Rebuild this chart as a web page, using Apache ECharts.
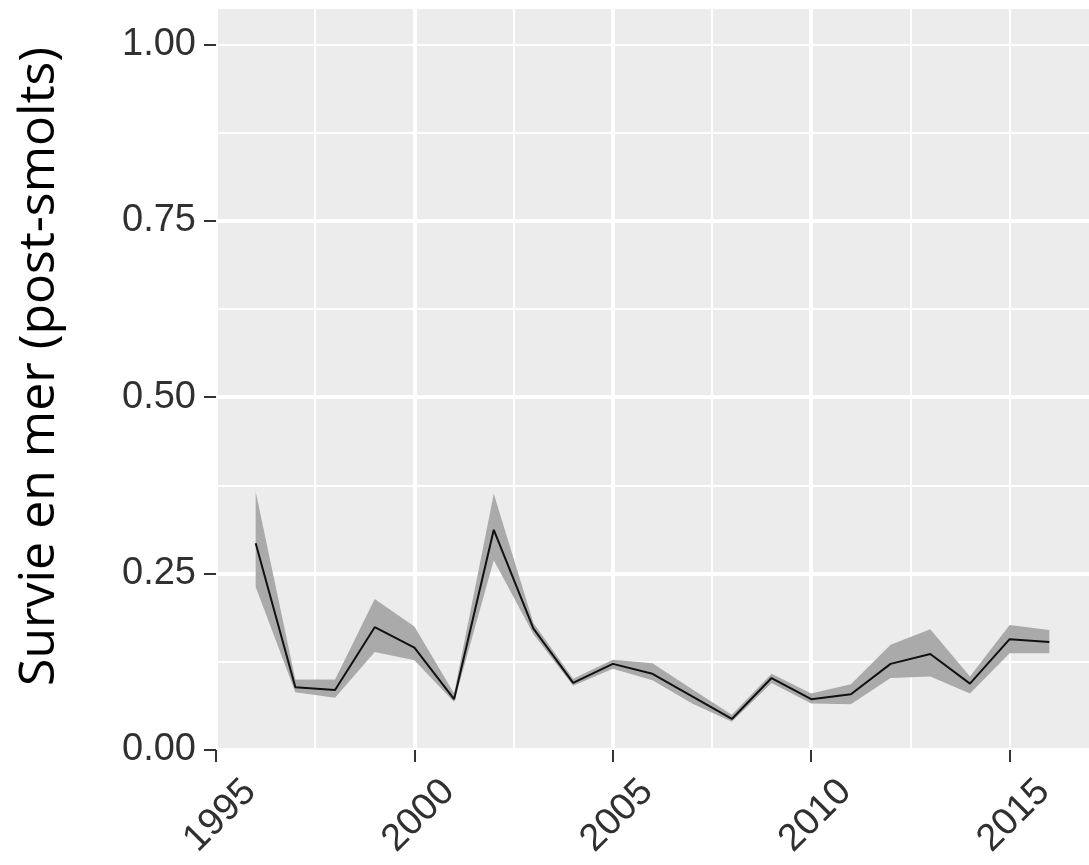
<!DOCTYPE html>
<html>
<head>
<meta charset="utf-8">
<script src="https://cdn.jsdelivr.net/npm/echarts@6/dist/echarts.min.js"></script>
<style>
  html, body { margin: 0; padding: 0; background: #ffffff; }
  #chart { width: 1089px; height: 865px; }
</style>
</head>
<body>
<div id="chart"></div>
<script>
// Post-smolt marine survival: median with credible band, by smolt year
const years = [1996, 1997, 1998, 1999, 2000, 2001, 2002, 2003, 2004, 2005, 2006,
               2007, 2008, 2009, 2010, 2011, 2012, 2013, 2014, 2015, 2016];
const median = [0.293, 0.089, 0.085, 0.174, 0.145, 0.072, 0.312, 0.172, 0.095, 0.122, 0.108,
                0.076, 0.044, 0.102, 0.072, 0.079, 0.122, 0.136, 0.094, 0.157, 0.153];
const upper = [0.366, 0.100, 0.100, 0.214, 0.175, 0.080, 0.363, 0.180, 0.101, 0.128, 0.123,
               0.086, 0.050, 0.108, 0.080, 0.093, 0.149, 0.171, 0.104, 0.177, 0.170];
const lower = [0.231, 0.082, 0.074, 0.139, 0.127, 0.068, 0.269, 0.164, 0.091, 0.115, 0.099,
               0.066, 0.040, 0.095, 0.066, 0.065, 0.102, 0.104, 0.080, 0.137, 0.137];

const xTicks = [1995, 2000, 2005, 2010, 2015];
const yTicks = [0, 0.25, 0.5, 0.75, 1.0];
const yTitle = 'Survie en mer (post-smolts)';

const X_MIN = 1995, X_MAX = 2017, Y_MIN = 0, Y_MAX = 1.05;
const labelFont = "'Liberation Sans', Arial, sans-serif";
const titleFont = "'Open Sans', 'Noto Sans', sans-serif";

const chart = echarts.init(document.getElementById('chart'), null, { renderer: 'canvas' });

const gridLine = (w) => ({ show: true, showMinLine: true, showMaxLine: false,
                           lineStyle: { color: '#ffffff', width: w } });

const option = {
  animation: false,
  grid: {
    left: 216, right: 0, top: 9, bottom: 115,
    show: true, backgroundColor: '#ececec', borderWidth: 0
  },
  xAxis: [
    {
      type: 'value', min: X_MIN, max: X_MAX, interval: 5,
      axisLine: { show: false },
      axisTick: { show: true, length: 12, customValues: xTicks,
                  lineStyle: { color: '#333333', width: 2 } },
      axisLabel: {
        show: true, customValues: xTicks, rotate: 45,
        align: 'center', verticalAlign: 'middle', margin: 70,
        padding: [0, 0, 0, 12],
        fontFamily: labelFont, fontSize: 38, color: '#303030',
        formatter: (v) => (v % 5 === 0 ? String(v) : '')
      },
      splitLine: gridLine(4),
      z: 2
    },
    {
      // minor grid (half-steps)
      type: 'value', min: X_MIN, max: X_MAX, interval: 2.5,
      axisLine: { show: false }, axisTick: { show: false }, axisLabel: { show: false },
      splitLine: gridLine(2),
      z: 1
    }
  ],
  yAxis: [
    {
      type: 'value', min: Y_MIN, max: Y_MAX, interval: 0.25,
      name: yTitle, nameLocation: 'middle', nameRotate: 90, nameGap: 151,
      nameTextStyle: { fontFamily: titleFont, fontSize: 50, color: '#000000',
                       padding: [0, 0, 0, 26] },
      axisLine: { show: false },
      axisTick: { show: true, length: 12, customValues: yTicks,
                  lineStyle: { color: '#333333', width: 2 } },
      axisLabel: {
        show: true, customValues: yTicks, margin: 20,
        fontFamily: labelFont, fontSize: 38, color: '#303030',
        formatter: (v) => v.toFixed(2)
      },
      splitLine: gridLine(4),
      z: 2
    },
    {
      // minor grid (half-steps)
      type: 'value', min: Y_MIN, max: Y_MAX, interval: 0.125,
      axisLine: { show: false }, axisTick: { show: false }, axisLabel: { show: false },
      splitLine: gridLine(2),
      z: 1
    }
  ],
  series: [
    {
      // credible band drawn as one polygon: upper edge then lower edge reversed
      type: 'custom',
      xAxisIndex: 0, yAxisIndex: 0,
      data: years.map((y, i) => [y, lower[i], upper[i]]),
      encode: { x: 0, y: [1, 2] },
      clip: true,
      renderItem: function (params, api) {
        if (params.dataIndex !== 0) return null;
        const pts = [];
        for (let i = 0; i < years.length; i++) pts.push(api.coord([years[i], upper[i]]));
        for (let i = years.length - 1; i >= 0; i--) pts.push(api.coord([years[i], lower[i]]));
        return { type: 'polygon', shape: { points: pts }, style: { fill: '#aaaaaa' } };
      },
      z: 3
    },
    {
      type: 'line',
      xAxisIndex: 0, yAxisIndex: 0,
      data: years.map((y, i) => [y, median[i]]),
      showSymbol: false, symbol: 'none',
      lineStyle: { color: '#111111', width: 2 },
      z: 4
    }
  ]
};

chart.setOption(option);
</script>
</body>
</html>
